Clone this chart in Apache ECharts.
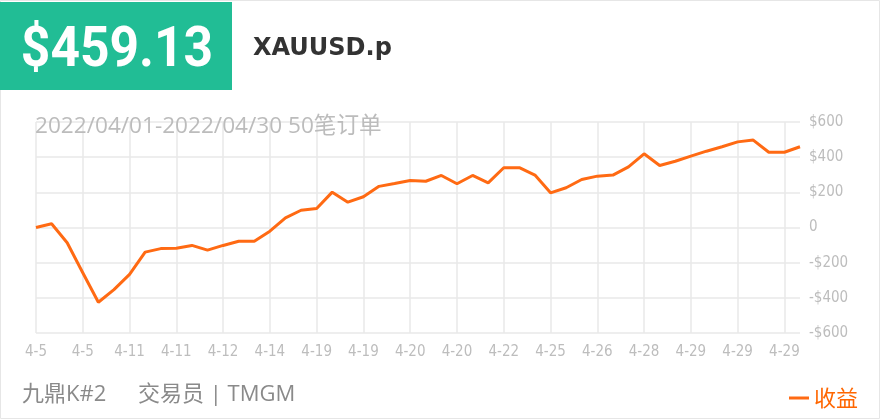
<!DOCTYPE html>
<html>
<head>
<meta charset="utf-8">
<script src="https://cdn.jsdelivr.net/npm/echarts@6/dist/echarts.min.js"></script>
<style>
html,body{margin:0;padding:0;background:#fff;}
#c{width:880px;height:419px;}
</style>
</head>
<body>
<div id="c"></div>
<script>
// ---- data ----
var dates = ['4-5','4-5','4-5','4-5','4-6','4-7','4-11','4-11','4-11','4-11',
             '4-12','4-12','4-12','4-13','4-13','4-14','4-14','4-18','4-19','4-19',
             '4-19','4-19','4-20','4-20','4-20','4-20','4-20','4-20','4-21','4-21',
             '4-22','4-22','4-25','4-25','4-25','4-26','4-26','4-27','4-27','4-28',
             '4-28','4-28','4-29','4-29','4-29','4-29','4-29','4-29','4-29','4-29'];
var profit = [0, 21, -87, -257, -425, -353, -267, -140, -120, -118,
              -102, -129, -102, -78, -78, -21, 55, 98, 108, 201,
              144, 175, 234, 250, 267, 263, 296, 249, 296, 254,
              340, 340, 298, 197, 226, 273, 292, 298, 345, 419,
              353, 377, 406, 434, 459, 487, 497, 428, 428, 459.13];
var yTicks = [-600, -400, -200, 0, 200, 400, 600];
var totalText = '$459.13';
var symbolText = 'XAUUSD.p';
var periodText = '2022/04/01-2022/04/30 50笔订单';
var accountText = '九鼎K#2';
var traderText = '交易员 | TMGM';
var seriesName = '收益';

var ORANGE = '#ff6a13';
var chart = echarts.init(document.getElementById('c'), null, {renderer:'canvas'});
var narrow = '"DejaVu Sans Condensed","Liberation Sans Narrow",sans-serif';
var cjk = '"Open Sans","Noto Sans CJK SC",sans-serif';

chart.setOption({
  animation: false,
  backgroundColor: '#fff',
  grid: {left: 36, right: 80, top: 122, bottom: 86},
  legend: {
    data: [seriesName],
    left: 784, top: 382,
    icon: 'rect', itemWidth: 20, itemHeight: 3,
    textStyle: {color: '#ff6600', fontSize: 22, fontFamily: '"Noto Sans CJK SC",sans-serif'}
  },
  xAxis: {
    type: 'category',
    data: dates,
    boundaryGap: false,
    axisLine: {show: false},
    axisTick: {show: false},
    axisLabel: {interval: 2, color: '#bdbdbd', fontSize: 15, fontFamily: narrow, margin: 12},
    splitLine: {show: true, interval: 2, lineStyle: {color: '#e9e9e9', width: 1.5}}
  },
  yAxis: {
    type: 'value',
    position: 'right',
    min: yTicks[0], max: yTicks[yTicks.length-1], interval: 200,
    axisLine: {show: false},
    axisTick: {show: false},
    axisLabel: {
      color: '#bdbdbd', fontSize: 15, fontFamily: narrow, margin: 9,
      formatter: function(v){ return v === 0 ? '0' : (v < 0 ? '-$' + (-v) : '$' + v); }
    },
    splitLine: {lineStyle: {color: '#e9e9e9', width: 1.5}}
  },
  series: [{
    name: seriesName,
    type: 'line',
    data: profit,
    showSymbol: false,
    symbol: 'none',
    lineStyle: {color: ORANGE, width: 3},
    itemStyle: {color: ORANGE}
  }],
  graphic: [
    {type: 'rect', shape: {x: 0.5, y: 0.5, width: 879, height: 418}, style: {fill: 'none', stroke: '#e6e6e6', lineWidth: 1}, z: 0, silent: true},
    {type: 'rect', shape: {x: 0, y: 2, width: 232, height: 88}, style: {fill: '#21bd95'}, z: 10},
    {type: 'text', x: 117, y: 52, scaleX: 0.92, z: 11,
     style: {text: totalText, fill: '#fff', font: 'bold 56px Roboto, sans-serif', textAlign: 'center', textVerticalAlign: 'middle'}},
    {type: 'text', x: 253, y: 49, z: 11,
     style: {text: symbolText, fill: '#333', font: 'bold 24px "DejaVu Sans", sans-serif', textAlign: 'left', textVerticalAlign: 'middle'}},
    {type: 'text', x: 35, y: 127, z: 11,
     style: {text: periodText, fill: '#bcbcbc', font: '22.6px ' + cjk, textAlign: 'left', textVerticalAlign: 'middle'}},
    {type: 'text', x: 22, y: 395, z: 11,
     style: {text: accountText, fill: '#8a8a8a', font: '22px ' + cjk, textAlign: 'left', textVerticalAlign: 'middle'}},
    {type: 'text', x: 138, y: 395, z: 11,
     style: {text: traderText, fill: '#8a8a8a', font: '22px ' + cjk, textAlign: 'left', textVerticalAlign: 'middle'}}
  ]
});
</script>
</body>
</html>
